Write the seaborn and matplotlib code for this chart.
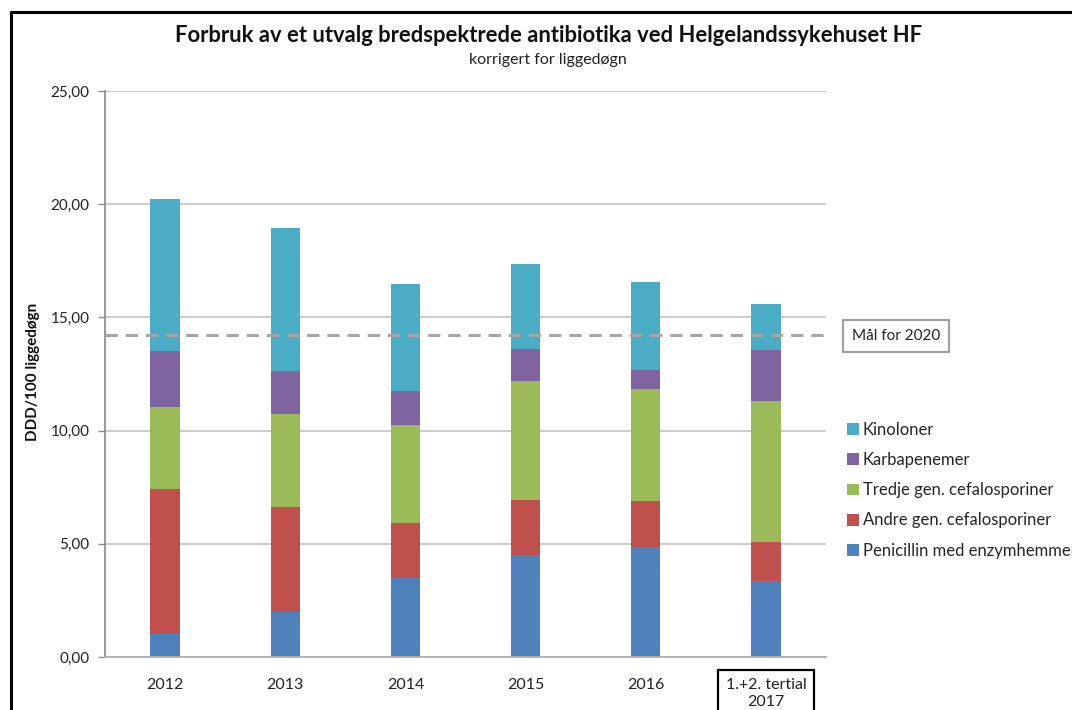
import numpy as np
import matplotlib
matplotlib.use("Agg")
import matplotlib.pyplot as plt
import seaborn as sns
from matplotlib.patches import Patch
from matplotlib.lines import Line2D
from matplotlib.ticker import FuncFormatter

# data (DDD/100 liggedøgn)
kategorier = ["2012", "2013", "2014", "2015", "2016", "1.+2. tertial\n2017"]
penicillin = [1.03, 1.98, 3.48, 4.51, 4.84, 3.35]
andre_gen = [6.40, 4.63, 2.42, 2.41, 2.06, 1.75]
tredje_gen = [3.61, 4.12, 4.35, 5.26, 4.94, 6.19]
karbapenemer = [2.46, 1.90, 1.50, 1.44, 0.85, 2.26]
kinoloner = [6.73, 6.32, 4.74, 3.75, 3.89, 2.03]
maal_2020 = 14.21

serie_navn = ["Penicillin med enzymhemmer", "Andre gen. cefalosporiner",
              "Tredje gen. cefalosporiner", "Karbapenemer", "Kinoloner"]
serie_farger = ["#4F81BD", "#C0504D", "#9BBB59", "#8064A2", "#4BACC6"]

sns.set_theme(style="white")
plt.rcParams["font.family"] = ["Lato", "DejaVu Sans"]

fig = plt.figure(figsize=(10.72, 7.10), dpi=100)
ax = fig.add_axes([105 / 1072, 1 - 657 / 710, (826 - 105) / 1072, (657 - 91) / 710])

serier = [penicillin, andre_gen, tredje_gen, karbapenemer, kinoloner]
kumulativ = np.cumsum(np.array(serier), axis=0)

# draw from the top of the stack down so lower segments sit on top
for i in range(len(serier) - 1, -1, -1):
    sns.barplot(x=kategorier, y=kumulativ[i], color=serie_farger[i], width=0.245,
                saturation=1, linewidth=0, ax=ax, zorder=2)

ax.axhline(maal_2020, color="#a6a6a6", lw=2.2, dashes=(4, 2.6), zorder=5)

ax.set_ylim(0, 25)
ax.set_xlim(-0.5, 5.5)
ax.set_yticks([0, 5, 10, 15, 20, 25])
ax.yaxis.set_major_formatter(FuncFormatter(lambda v, p: f"{v:.2f}".replace(".", ",")))
ax.yaxis.grid(True, color="#c4c4c4", lw=1.2, zorder=0)
ax.set_axisbelow(True)
ax.set_xlabel("")
ax.set_ylabel("")

for s in ["top", "right"]:
    ax.spines[s].set_visible(False)
ax.spines["left"].set_color("#8c8c8c")
ax.spines["bottom"].set_color("#b0b0b0")
ax.spines["bottom"].set_linewidth(1.3)

ax.tick_params(axis="y", which="major", left=True, length=5, width=1, color="#8c8c8c",
               labelsize=11, pad=6, labelcolor="#222222")
ax.tick_params(axis="x", bottom=False, labelsize=11.5, pad=9, labelcolor="#222222")

siste = ax.get_xticklabels()[-1]
siste.set_linespacing(1.25)
siste.set_bbox(dict(boxstyle="square,pad=0.5", fc="white", ec="black", lw=1.6))

# titles and axis label
fig.text(549 / 1072, 1 - 36 / 710, "Forbruk av et utvalg bredspektrede antibiotika ved Helgelandssykehuset HF",
         ha="center", va="center", fontsize=15.8, fontweight="bold", color="#111111")
fig.text(548 / 1072, 1 - 60 / 710, "korrigert for liggedøgn", ha="center", va="center",
         fontsize=11.5, color="#222222")
fig.text(33 / 1072, 1 - 372 / 710, "DDD/100 liggedøgn", rotation=90, ha="center", va="center",
         fontsize=11, fontweight="bold", color="#111111")

# target label box
fig.text(896 / 1072, 1 - 336 / 710, "Mål for 2020", ha="center", va="center", fontsize=11,
         color="#222222",
         bbox=dict(boxstyle="square,pad=0.6", fc="white", ec="#a0a0a0", lw=1.6))

# legend, top series first
handles = [Patch(facecolor=serie_farger[i], edgecolor="none") for i in range(4, -1, -1)]
labels = [serie_navn[i] for i in range(4, -1, -1)]
fig.legend(handles, labels, loc="upper left", bbox_to_anchor=(847 / 1072, 1 - 422 / 710),
           frameon=False, fontsize=12, handlelength=0.7, handleheight=0.7,
           handletextpad=0.25, labelspacing=0.85, borderaxespad=0, borderpad=0)

# outer chart frame
fig.add_artist(Line2D([11 / 1072, 1], [1 - 12 / 710, 1 - 12 / 710], color="black", lw=2.2))
fig.add_artist(Line2D([11 / 1072, 11 / 1072], [0, 1 - 12 / 710], color="black", lw=2.2))

fig.savefig("out.png", dpi=100)
